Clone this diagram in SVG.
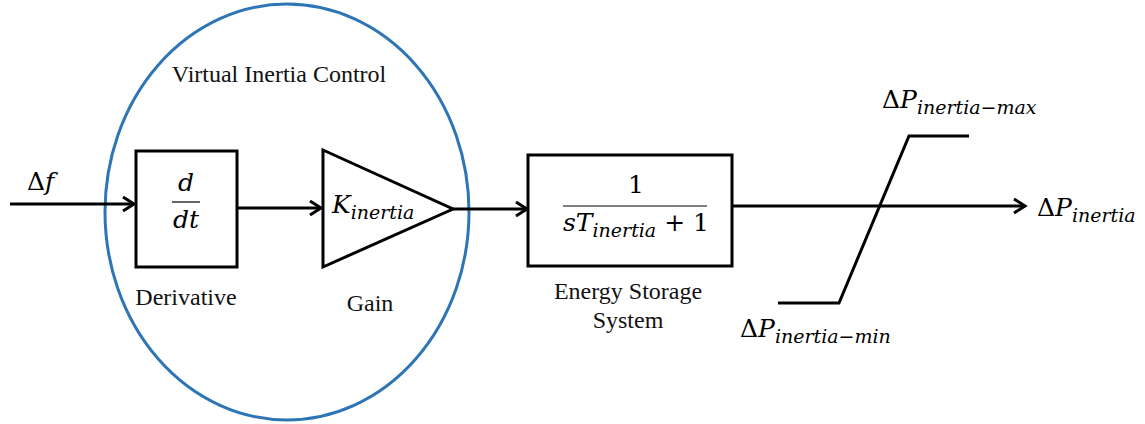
<svg xmlns="http://www.w3.org/2000/svg" width="1145" height="424" viewBox="0 0 1145 424">
<defs>
<marker id="arr" markerUnits="userSpaceOnUse" markerWidth="20" markerHeight="20" viewBox="-14 -10 16 20" refX="0" refY="0" orient="auto">
<path d="M-11,-7 L0,0 L-11,7" fill="none" stroke="#000" stroke-width="3" stroke-linejoin="miter"/>
</marker>
</defs>
<style>
.blk{fill:#fff;stroke:#000;stroke-width:3}
.ln{fill:none;stroke:#000;stroke-width:3}
.lbl{font-family:'Liberation Serif',serif;font-size:24px;fill:#111}
.m{font-family:'DejaVu Serif',serif;font-style:italic;font-size:25px;fill:#000}
.mr{font-family:'DejaVu Serif',serif;font-style:normal;font-size:25px;fill:#000}
.sub{font-size:19px}
</style>
<rect width="1145" height="424" fill="#fff"/>
<g id="vic">
<ellipse cx="287" cy="212" rx="182" ry="208" fill="none" stroke="#2E75B6" stroke-width="3"/>
<text class="lbl" x="279" y="82" text-anchor="middle" font-family="Liberation Serif">Virtual Inertia Control</text>
</g>
<g id="connectors">
<line class="ln" x1="10" y1="204" x2="134" y2="204" marker-end="url(#arr)"/>
<line class="ln" x1="237" y1="208" x2="321" y2="208" marker-end="url(#arr)"/>
<line class="ln" x1="453" y1="209" x2="527" y2="209" marker-end="url(#arr)"/>
<line class="ln" x1="732" y1="206" x2="1025" y2="206" marker-end="url(#arr)"/>
</g>
<g id="input">
<text class="mr" x="27" y="190">Δ<tspan class="m">f</tspan></text>
</g>
<g id="derivative">
<rect class="blk" x="136" y="151" width="101" height="116"/>
<text class="m" x="186" y="191" text-anchor="middle">d</text>
<line x1="172" y1="202" x2="200" y2="202" stroke="#000" stroke-width="1.2"/>
<text class="m" x="186" y="228" text-anchor="middle">dt</text>
<text class="lbl" x="186" y="305" text-anchor="middle" font-family="Liberation Serif">Derivative</text>
</g>
<g id="gain">
<polygon class="blk" points="323,150 453,209 323,267"/>
<text class="m" x="332" y="213">K<tspan class="sub" dy="6">inertia</tspan></text>
<text class="lbl" x="370" y="311" text-anchor="middle" font-family="Liberation Serif">Gain</text>
</g>
<g id="ess">
<rect class="blk" x="528" y="155" width="204" height="111"/>
<text class="mr" x="636" y="193" text-anchor="middle">1</text>
<line x1="563" y1="206" x2="707" y2="206" stroke="#000" stroke-width="1.2"/>
<text class="m" x="563" y="231">sT<tspan class="sub" dy="6">inertia</tspan><tspan class="mr" dy="-6"> + 1</tspan></text>
<text class="lbl" x="628" y="299" text-anchor="middle" font-family="Liberation Serif">Energy Storage</text>
<text class="lbl" x="628" y="328" text-anchor="middle" font-family="Liberation Serif">System</text>
</g>
<g id="saturation">
<polyline class="ln" points="778,303 839,303 909,136 969,136" stroke-width="3.5"/>
<text class="mr" x="882" y="108">Δ<tspan class="m">P</tspan><tspan class="m sub" dy="6">inertia−max</tspan></text>
<text class="mr" x="740" y="337">Δ<tspan class="m">P</tspan><tspan class="m sub" dy="6">inertia−min</tspan></text>
</g>
<g id="output">
<text class="mr" x="1037" y="216">Δ<tspan class="m">P</tspan><tspan class="m sub" dy="6">inertia</tspan></text>
</g>
</svg>
